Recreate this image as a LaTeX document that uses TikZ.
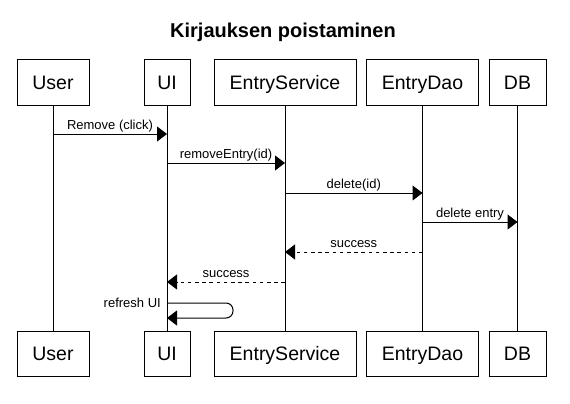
\documentclass[tikz,border=0pt]{standalone}
\usepackage{fontspec}
\setmainfont{Liberation Sans}
\usetikzlibrary{arrows.meta}

\begin{document}
\begin{tikzpicture}[x=1pt,y=-1pt,
    actor/.style={draw, line width=1pt, minimum height=45pt, inner sep=0pt, font=\fontsize{19.5}{22}\selectfont, text height=14pt, text depth=0pt},
    msg/.style={line width=1pt, -{Triangle[length=10pt,width=15pt]}},
    reply/.style={msg, dash pattern=on 3.6pt off 3.6pt},
    lbl/.style={above, inner sep=0pt, yshift=4pt, font=\fontsize{13}{15}\selectfont, text depth=0pt}]

\useasboundingbox (0,0) rectangle (570,404);
\node [font=\bfseries\fontsize{20}{24}\selectfont, text depth=0pt] (title) at (283,30){Kirjauksen poistaminen};

\node [actor, minimum width=72pt] (user) at (53,82.5){User};
\node [actor, minimum width=46pt] (ui) at (167,82.5){UI};
\node [actor, minimum width=142pt] (service) at (285,82.5){EntryService};
\node [actor, minimum width=112pt] (dao) at (422.5,82.5){EntryDao};
\node [actor, minimum width=57pt] (db) at (517.5,82.5){DB};
\node [actor, minimum width=72pt] (user2) at (53,353.5){User};
\node [actor, minimum width=46pt] (ui2) at (167,353.5){UI};
\node [actor, minimum width=142pt] (service2) at (285,353.5){EntryService};
\node [actor, minimum width=112pt] (dao2) at (422.5,353.5){EntryDao};
\node [actor, minimum width=57pt] (db2) at (517.5,353.5){DB};

\draw [line width=1pt] (user) -- (user2);
\draw [line width=1pt] (ui) -- (ui2);
\draw [line width=1pt] (service) -- (service2);
\draw [line width=1pt] (dao) -- (dao2);
\draw [line width=1pt] (db) -- (db2);

\draw [msg] (user |- 0,134) -- node[lbl]{Remove (click)} (ui |- 0,134);
\draw [msg] (ui |- 0,163) -- node[lbl]{removeEntry(id)} (service |- 0,163);
\draw [msg] (service |- 0,193) -- node[lbl]{delete(id)} (dao |- 0,193);
\draw [msg] (dao |- 0,222) -- node[lbl]{delete entry} (db |- 0,222);
\draw [reply] (dao |- 0,252) -- node[lbl]{success} (service |- 0,252);
\draw [reply] (service |- 0,282) -- node[lbl]{success} (ui |- 0,282);
\draw [msg, rounded corners=7pt] (ui |- 0,303) -- ++(66,0) -- ++(0,15) -- (ui |- 0,318);
\node [anchor=east, inner sep=0pt, font=\fontsize{13}{15}\selectfont, text depth=0pt] (refresh) at (161,303){refresh UI};
\end{tikzpicture}
\end{document}
